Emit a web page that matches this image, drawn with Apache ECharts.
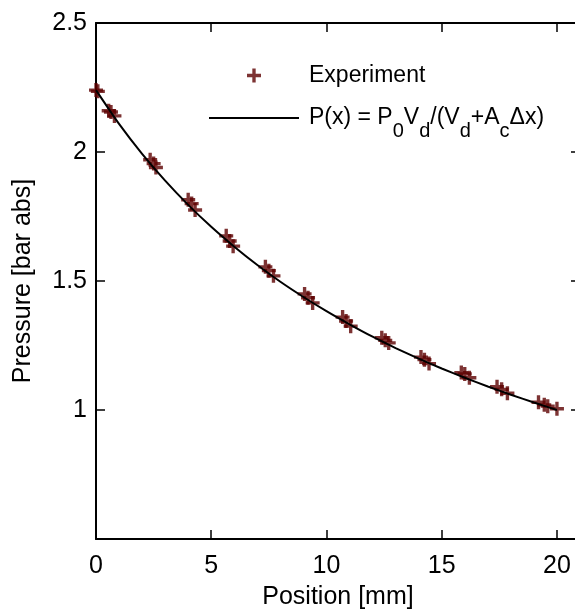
<!DOCTYPE html>
<html>
<head>
<meta charset="utf-8">
<script src="https://cdn.jsdelivr.net/npm/echarts@6/dist/echarts.min.js"></script>
<style>
  html, body { margin: 0; padding: 0; background: #fff; }
  #chart { width: 575px; height: 609px; }
</style>
</head>
<body>
<div id="chart"></div>
<script>
var expX = [0, 0.08, 0.55, 0.65, 0.8, 2.35, 2.5, 2.6, 4.0, 4.15, 4.3, 5.65, 5.8, 5.95,
            7.35, 7.5, 7.7, 9.05, 9.2, 9.4, 10.7, 10.85, 11.05, 12.4, 12.55, 12.7,
            14.1, 14.25, 14.45, 15.85, 16.0, 16.2, 17.4, 17.6, 17.85, 19.2, 19.45, 19.6, 20.0];
var expY = [2.24, 2.235, 2.16, 2.155, 2.14, 1.97, 1.955, 1.94, 1.815, 1.8, 1.775, 1.675, 1.655, 1.635,
            1.555, 1.54, 1.52, 1.45, 1.435, 1.415, 1.36, 1.345, 1.325, 1.28, 1.27, 1.26,
            1.205, 1.195, 1.18, 1.145, 1.14, 1.125, 1.09, 1.08, 1.065, 1.03, 1.02, 1.015, 1.005];

// fitted curve, read at every mm
var fitX = [0, 1, 2, 3, 4, 5, 6, 7, 8, 9, 10, 11, 12, 13, 14, 15, 16, 17, 18, 19, 20];
var fitY = [2.240, 2.109, 1.993, 1.889, 1.795, 1.710, 1.633, 1.562, 1.497, 1.438, 1.383,
            1.332, 1.284, 1.240, 1.199, 1.161, 1.125, 1.091, 1.059, 1.029, 1.000];

var xTicks = [0, 5, 10, 15, 20];
var yTicks = [1, 1.5, 2, 2.5];

var font = 'Liberation Sans';
var plus = 'path://M3.8,0H6.2V3.8H10V6.2H6.2V10H3.8V6.2H0V3.8H3.8Z';
var red = '#5c0000';

function zip(a, b) {
    return a.map(function (v, i) { return [v, b[i]]; });
}

// fresh objects each time, echarts merges into them
function line() {
    return { show: true, onZero: false, lineStyle: { color: '#000', width: 2 } };
}
function tick() {
    return { show: true, inside: true, length: 9, lineStyle: { color: '#000', width: 1.5 } };
}

var chart = echarts.init(document.getElementById('chart'));

chart.setOption({
    animation: false,
    backgroundColor: '#fff',
    grid: { left: 96, right: -5, top: 23, bottom: 70, outerBoundsMode: 'none' },
    legend: {
        orient: 'vertical',
        left: 208,
        top: 64,
        padding: 0,
        itemWidth: 90,
        itemHeight: 14,
        itemGap: 8,
        selectedMode: false,
        data: [
            { name: 'Experiment', icon: plus },
            { name: 'fit', itemStyle: { opacity: 0 } }
        ],
        textStyle: {
            fontFamily: font, fontSize: 23, color: '#000', padding: [0, 0, 0, 5],
            rich: {
                t: { fontFamily: font, fontSize: 23, color: '#000', lineHeight: 30 },
                s: { fontFamily: font, fontSize: 20, color: '#000', lineHeight: 30, padding: [26, 0, 0, 0] }
            }
        },
        formatter: function (name) {
            if (name !== 'fit') return name;
            return '{t|P(x) = P}{s|0}{t|V}{s|d}{t|/(V}{s|d}{t|+A}{s|c}{t|\u0394x)}';
        }
    },
    xAxis: [{
        type: 'value', min: 0, max: 21, interval: 5,
        name: 'Position [mm]', nameLocation: 'middle', nameGap: 46,
        nameTextStyle: { fontFamily: font, fontSize: 25, color: '#000' },
        axisLine: line(), axisTick: tick(), splitLine: { show: false },
        axisLabel: {
            fontFamily: font, fontSize: 25, color: '#000', margin: 15,
            formatter: function (v) { return xTicks.indexOf(v) >= 0 ? String(v) : ''; }
        }
    }, {
        // mirror axis on top, ticks only
        type: 'value', position: 'top', min: 0, max: 21, interval: 5,
        axisLine: line(), axisTick: tick(), splitLine: { show: false },
        axisLabel: { show: false }
    }],
    yAxis: [{
        type: 'value', min: 0.5, max: 2.5, interval: 0.5,
        name: 'Pressure [bar abs]', nameLocation: 'middle', nameGap: 60,
        nameTextStyle: { fontFamily: font, fontSize: 25, color: '#000' },
        axisLine: line(), axisTick: tick(), splitLine: { show: false },
        axisLabel: {
            fontFamily: font, fontSize: 25, color: '#000', margin: 9,
            formatter: function (v) { return yTicks.indexOf(v) >= 0 ? String(v) : ''; }
        }
    }, {
        type: 'value', position: 'right', min: 0.5, max: 2.5, interval: 0.5,
        axisLine: line(), axisTick: tick(), splitLine: { show: false },
        axisLabel: { show: false }
    }],
    series: [{
        // same scales as the main axes; sits on the mirror pair so they get drawn
        name: 'fit',
        type: 'line',
        xAxisIndex: 1,
        yAxisIndex: 1,
        data: zip(fitX, fitY),
        showSymbol: false,
        symbol: 'none',
        smooth: 0.2,
        z: 3,
        lineStyle: { color: '#000', width: 2 },
        itemStyle: { color: '#000' }
    }, {
        name: 'Experiment',
        type: 'scatter',
        data: zip(expX, expY),
        symbol: plus,
        symbolSize: 14,
        clip: false,
        z: 2,
        itemStyle: { color: red }
    }]
});
</script>
</body>
</html>
